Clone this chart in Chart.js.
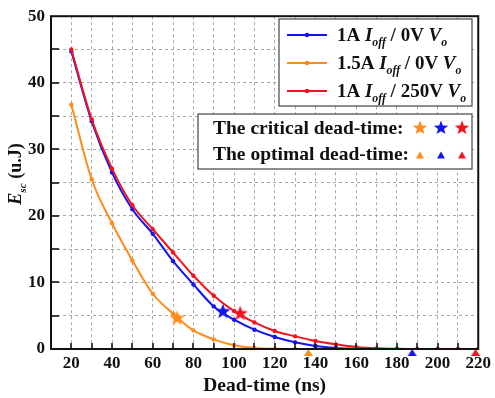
<!DOCTYPE html>
<html>
<head>
<meta charset="utf-8">
<script src="https://cdn.jsdelivr.net/npm/chart.js@4/dist/chart.umd.min.js"></script>
<style>
  html, body { margin: 0; padding: 0; background: #fff; }
  #wrap { width: 495px; height: 398px; }
</style>
</head>
<body>
<div id="wrap"><canvas id="esc"></canvas></div>
<script>
const SERIF = "'Liberation Serif', 'Times New Roman', serif";

// switching energy vs dead-time, three operating points
const blueTime = [20, 30, 40, 50, 60, 70, 80, 90, 100, 110, 120, 130, 140, 150, 160];
const blueEsc = [44.7, 34.2, 26.5, 21.0, 17.3, 13.2, 9.7, 6.4, 4.4, 2.9, 1.8, 1.0, 0.45, 0.15, 0.02];

const orangeTime = [20, 30, 40, 50, 60, 70, 80, 90, 100, 110, 120, 130, 140];
const orangeEsc = [36.7, 25.5, 18.9, 13.3, 8.3, 5.3, 2.8, 1.45, 0.55, 0.15, 0.03, 0, 0];

const redTime = [20, 30, 40, 50, 60, 70, 80, 90, 100, 110, 120, 130, 140, 150, 160, 170, 180, 190, 200, 210, 220];
const redEsc = [45.0, 34.5, 27.1, 21.6, 18.0, 14.5, 11.0, 8.0, 5.7, 4.0, 2.7, 1.9, 1.2, 0.7, 0.3, 0.1, 0.03, 0, 0, 0, 0];

// critical dead-time (stars) and optimal dead-time (triangles): orange, blue, red
const criticalTime = [72, 94.5, 103];
const criticalEsc = [4.6, 5.6, 5.3];
const optimalTime = [136.5, 187.5, 218.7];
const optimalEsc = [0, 0, 0];

const xTickStep = 10;
const yTickStep = 5;

const BLUE = '#1414f0';
const ORANGE = '#ff8c1a';
const RED = '#f2141e';
const markColors = [ORANGE, BLUE, RED];

const pts = (xs, ys) => xs.map((x, i) => ({ x: x, y: ys[i] }));

function starPath(ctx, cx, cy, r) {
    ctx.beginPath();
    for (let i = 0; i < 10; i++) {
        const rad = i % 2 === 0 ? r : r * 0.42;
        const a = -Math.PI / 2 + i * Math.PI / 5;
        const px = cx + rad * Math.cos(a);
        const py = cy + rad * Math.sin(a);
        if (i === 0) ctx.moveTo(px, py); else ctx.lineTo(px, py);
    }
    ctx.closePath();
}

function makeStar(color, r) {
    const c = document.createElement('canvas');
    c.width = c.height = Math.ceil(2 * r + 2);
    const g = c.getContext('2d');
    g.fillStyle = color;
    starPath(g, c.width / 2, c.height / 2, r);
    g.fill();
    return c;
}

// triangle sitting just under its point, apex on the centre
function makeTriangle(color, w, h) {
    const c = document.createElement('canvas');
    c.width = w + 2;
    c.height = 2 * h + 2;
    const g = c.getContext('2d');
    const cx = c.width / 2, cy = c.height / 2;
    g.fillStyle = color;
    g.beginPath();
    g.moveTo(cx, cy);
    g.lineTo(cx + w / 2, cy + h);
    g.lineTo(cx - w / 2, cy + h);
    g.closePath();
    g.fill();
    return c;
}

function drawTriangle(ctx, cx, cy, w, h, color) {
    ctx.fillStyle = color;
    ctx.beginPath();
    ctx.moveTo(cx, cy - h / 2);
    ctx.lineTo(cx + w / 2, cy + h / 2);
    ctx.lineTo(cx - w / 2, cy + h / 2);
    ctx.closePath();
    ctx.fill();
}

// text in pieces: italic and subscript parts
function richWidth(ctx, parts, size) {
    let w = 0;
    parts.forEach(p => {
        const s = p.sub ? size * 0.62 : size;
        ctx.font = (p.it ? 'italic ' : '') + 'bold ' + s + 'px ' + SERIF;
        w += ctx.measureText(p.t).width;
    });
    return w;
}

function drawRich(ctx, x, y, parts, size) {
    ctx.textBaseline = 'alphabetic';
    ctx.textAlign = 'left';
    ctx.fillStyle = '#111';
    parts.forEach(p => {
        const s = p.sub ? size * 0.62 : size;
        ctx.font = (p.it ? 'italic ' : '') + 'bold ' + s + 'px ' + SERIF;
        ctx.fillText(p.t, x, p.sub ? y + size * 0.28 : y);
        x += ctx.measureText(p.t).width;
    });
}

const legendRows = [
    { color: BLUE, parts: [{ t: '1A ' }, { t: 'I', it: true }, { t: 'off', it: true, sub: true }, { t: ' / 0V ' }, { t: 'V', it: true }, { t: 'o', it: true, sub: true }] },
    { color: ORANGE, parts: [{ t: '1.5A ' }, { t: 'I', it: true }, { t: 'off', it: true, sub: true }, { t: ' / 0V ' }, { t: 'V', it: true }, { t: 'o', it: true, sub: true }] },
    { color: RED, parts: [{ t: '1A ' }, { t: 'I', it: true }, { t: 'off', it: true, sub: true }, { t: ' / 250V ' }, { t: 'V', it: true }, { t: 'o', it: true, sub: true }] }
];

const decorations = {
    id: 'decorations',
    afterDraw(chart) {
        const ctx = chart.ctx;
        const area = chart.chartArea;
        const xs = chart.scales.x, ys = chart.scales.y;
        ctx.save();

        // inward tick marks
        ctx.strokeStyle = '#111';
        ctx.lineWidth = 1.6;
        for (let v = xs.min + xTickStep; v < xs.max; v += xTickStep) {
            const px = Math.round(xs.getPixelForValue(v));
            ctx.beginPath();
            ctx.moveTo(px, area.bottom);
            ctx.lineTo(px, area.bottom - 6);
            ctx.stroke();
        }
        for (let v = ys.min + yTickStep; v < ys.max; v += yTickStep) {
            const py = Math.round(ys.getPixelForValue(v));
            ctx.beginPath();
            ctx.moveTo(area.left, py);
            ctx.lineTo(area.left + 8, py);
            ctx.stroke();
        }

        // frame
        ctx.lineWidth = 2;
        ctx.strokeRect(area.left, area.top, area.right - area.left, area.bottom - area.top);

        // y title
        const yParts = [{ t: 'E', it: true }, { t: 'sc', it: true, sub: true }, { t: ' (u.J)' }];
        const yw = richWidth(ctx, yParts, 18);
        ctx.save();
        ctx.translate(21, 174);
        ctx.rotate(-Math.PI / 2);
        drawRich(ctx, -yw / 2, 0, yParts, 18);
        ctx.restore();

        // series legend
        ctx.fillStyle = '#fff';
        ctx.fillRect(279, 19, 193, 87);
        ctx.strokeStyle = '#444';
        ctx.lineWidth = 1.2;
        ctx.strokeRect(279, 19, 193, 87);
        legendRows.forEach((row, i) => {
            const cy = 35 + i * 28;
            ctx.strokeStyle = row.color;
            ctx.lineWidth = 2;
            ctx.beginPath();
            ctx.moveTo(287, cy);
            ctx.lineTo(327, cy);
            ctx.stroke();
            ctx.fillStyle = row.color;
            ctx.beginPath();
            ctx.arc(307, cy, 2.3, 0, Math.PI * 2);
            ctx.fill();
            drawRich(ctx, 337, cy + 6, row.parts, 19);
        });

        // marker legend
        ctx.fillStyle = '#fff';
        ctx.fillRect(198, 114, 274, 55);
        ctx.strokeStyle = '#444';
        ctx.lineWidth = 1.2;
        ctx.strokeRect(198, 114, 274, 55);
        drawRich(ctx, 213, 134, [{ t: 'The critical dead-time:' }], 19.5);
        drawRich(ctx, 213, 160, [{ t: 'The optimal dead-time:' }], 19.5);
        markColors.forEach((c, i) => {
            const cx = 420 + i * 21;
            ctx.fillStyle = c;
            starPath(ctx, cx, 128, 7.5);
            ctx.fill();
            drawTriangle(ctx, cx, 155, 8, 7, c);
        });

        ctx.restore();
    }
};

const starImgs = markColors.map(c => makeStar(c, 8));
const triImgs = markColors.map(c => makeTriangle(c, 9, 7));

const lineSet = (label, xs, ys, color, order) => ({
    label: label,
    data: pts(xs, ys),
    borderColor: color,
    backgroundColor: color,
    borderWidth: 2,
    pointRadius: 2.2,
    pointBorderWidth: 0,
    cubicInterpolationMode: 'monotone',
    order: order
});

new Chart(document.getElementById('esc'), {
    type: 'line',
    data: {
        datasets: [
            {
                label: 'critical',
                type: 'scatter',
                data: pts(criticalTime, criticalEsc),
                pointStyle: starImgs,
                pointRadius: 8,
                showLine: false,
                order: 0
            },
            {
                label: 'optimal',
                type: 'scatter',
                data: pts(optimalTime, optimalEsc),
                pointStyle: triImgs,
                pointRadius: 5,
                showLine: false,
                clip: false,
                order: 0
            },
            lineSet('1A Ioff / 250V Vo', redTime, redEsc, RED, 1),
            lineSet('1A Ioff / 0V Vo', blueTime, blueEsc, BLUE, 2),
            lineSet('1.5A Ioff / 0V Vo', orangeTime, orangeEsc, ORANGE, 3)
        ]
    },
    options: {
        responsive: true,
        maintainAspectRatio: false,
        animation: false,
        events: [],
        layout: { padding: { top: 10, right: 13, left: 0, bottom: 0 } },
        plugins: {
            legend: { display: false },
            tooltip: { enabled: false }
        },
        scales: {
            x: {
                type: 'linear',
                min: 10,
                max: 220,
                afterFit(scale) { scale.height = 49; },
                ticks: {
                    stepSize: xTickStep,
                    autoSkip: false,
                    maxRotation: 0,
                    padding: 4,
                    color: '#111',
                    font: { family: SERIF, size: 17, weight: 'bold' },
                    callback: v => (v % 20 === 0 ? v : '')
                },
                grid: { color: '#a8a8a8', lineWidth: 1, drawTicks: false },
                border: { display: false, dash: [3, 3] },
                title: {
                    display: true,
                    text: 'Dead-time (ns)',
                    color: '#111',
                    padding: { top: 0, bottom: 0 },
                    font: { family: SERIF, size: 19.5, weight: 'bold' }
                }
            },
            y: {
                min: 0,
                max: 50,
                afterFit(scale) { scale.width = 51; },
                ticks: {
                    stepSize: yTickStep,
                    autoSkip: false,
                    padding: 6,
                    color: '#111',
                    font: { family: SERIF, size: 17, weight: 'bold' },
                    callback: v => (v % 10 === 0 ? v : '')
                },
                grid: { color: '#a8a8a8', lineWidth: 1, drawTicks: false },
                border: { display: false, dash: [3, 3] }
            }
        }
    },
    plugins: [decorations]
});
</script>
</body>
</html>
